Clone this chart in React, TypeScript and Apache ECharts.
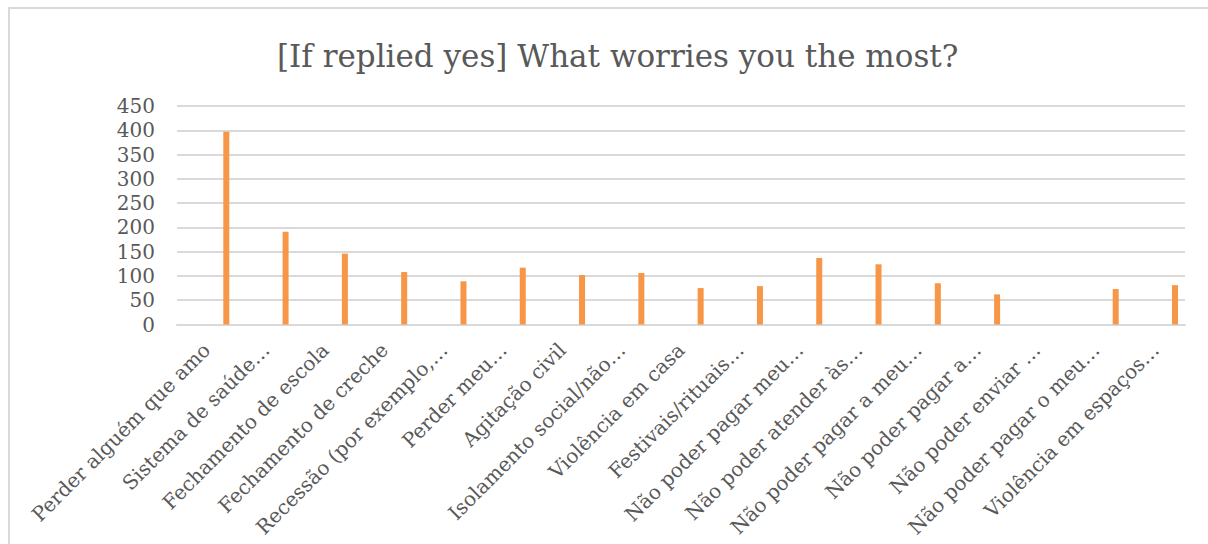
import React, { useEffect, useRef } from "react";
import * as echarts from "echarts";

const categories = [
  "Perder alguém que amo",
  "Sistema de saúde…",
  "Fechamento de escola",
  "Fechamento de creche",
  "Recessão (por exemplo,…",
  "Perder meu…",
  "Agitação civil",
  "Isolamento social/não…",
  "Violência em casa",
  "Festivais/rituais…",
  "Não poder pagar meu…",
  "Não poder atender às…",
  "Não poder pagar a meu…",
  "Não poder pagar a…",
  "Não poder enviar …",
  "Não poder pagar o meu…",
  "Violência em espaços…",
];

const values = [397, 191, 146, 108, 89, 117, 102, 106, 75, 79, 137, 124, 85, 62, 0, 73, 81];

// Placeholder series (no values) that occupies the slot before the visible series
const placeholder = categories.map(() => null);

const yTicks = { min: 0, max: 450, interval: 50 };

const FONT = "DejaVu Serif";
const TEXT = "#595959";

export default function App() {
  const ref = useRef<HTMLDivElement>(null);
  useEffect(() => {
    if (!ref.current) return;
    const chart = echarts.init(ref.current, undefined, { renderer: "svg" });
    chart.setOption({
      animation: false,
      backgroundColor: "#ffffff",
      title: {
        text: "[If replied yes] What worries you the most?",
        left: 272,
        top: 35,
        textStyle: {
          fontFamily: FONT,
          fontSize: 31,
          fontWeight: "normal",
          color: TEXT,
        },
      },
      graphic: [
        {
          type: "rect",
          shape: { x: 9, y: 8, width: 1400, height: 800 },
          style: { fill: "none", stroke: "#d9d9d9", lineWidth: 2 },
          silent: true,
        },
      ],
      grid: { left: 177, right: 23, top: 106, bottom: 219.5 },
      xAxis: {
        type: "category",
        data: categories,
        axisLine: { show: true, lineStyle: { color: "#d9d9d9", width: 2 } },
        axisTick: { show: false },
        axisLabel: {
          interval: 0,
          rotate: 45,
          margin: 22,
          fontFamily: FONT,
          fontSize: 20,
          color: TEXT,
        },
      },
      yAxis: {
        type: "value",
        min: yTicks.min,
        max: yTicks.max,
        interval: yTicks.interval,
        axisLine: { show: false },
        axisTick: { show: false },
        splitLine: { lineStyle: { color: "#d9d9d9", width: 2 } },
        axisLabel: {
          margin: 22,
          fontFamily: FONT,
          fontSize: 20,
          color: TEXT,
        },
      },
      series: [
        {
          type: "bar",
          name: "placeholder",
          data: placeholder,
          barWidth: 6,
          barGap: "555%",
          silent: true,
        },
        {
          type: "bar",
          name: "Count",
          data: values,
          barWidth: 6,
          barGap: "555%",
          itemStyle: { color: "#F79646" },
        },
      ],
    });
    return () => chart.dispose();
  }, []);
  return (
    <div
      ref={ref}
      style={{ position: "fixed", left: 0, top: 0, width: 1208, height: 544 }}
    />
  );
}
